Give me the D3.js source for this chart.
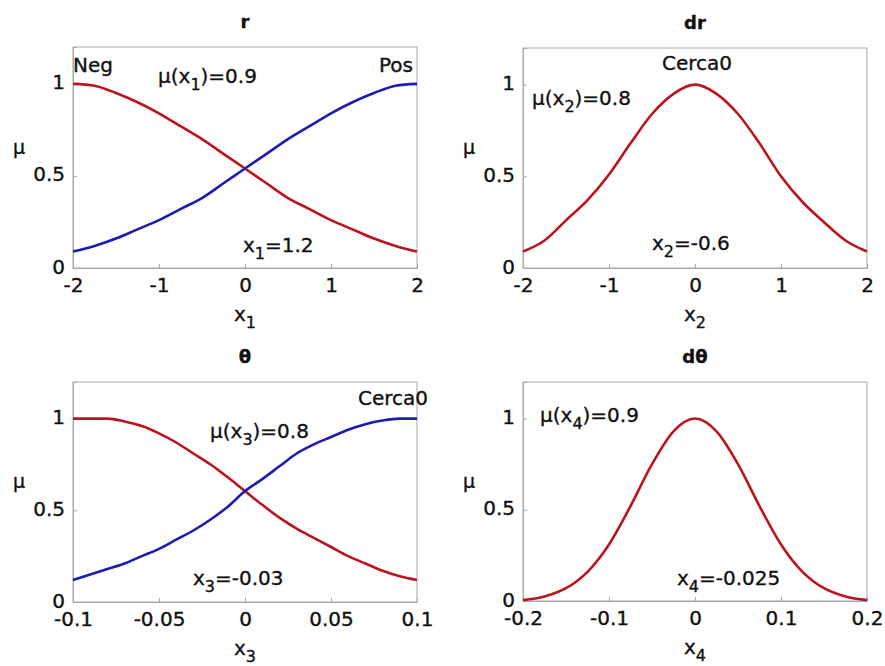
<!DOCTYPE html>
<html>
<head>
<meta charset="utf-8">
<script src="https://cdn.jsdelivr.net/npm/d3@7"></script>
<style>
  body { margin: 0; background: #fff; }
  text { font-family: "DejaVu Sans", Arial, sans-serif; fill: #111; stroke: #111; stroke-width: 0.35px; }
</style>
</head>
<body>
<div id="chart"></div>
<script>
// membership values
const x1 = [-2, -1.75, -1.5, -1.25, -1, -0.75, -0.5, -0.25, 0, 0.25, 0.5, 0.75, 1, 1.25, 1.5, 1.75, 2];
const negR = [1.0, 0.99, 0.95, 0.90, 0.84, 0.77, 0.70, 0.62, 0.54, 0.46, 0.38, 0.32, 0.26, 0.21, 0.16, 0.12, 0.09];
const posR = [0.09, 0.12, 0.16, 0.21, 0.26, 0.32, 0.38, 0.46, 0.54, 0.62, 0.70, 0.77, 0.84, 0.90, 0.95, 0.99, 1.0];

const x2 = [-2, -1.75, -1.5, -1.25, -1, -0.75, -0.5, -0.25, 0, 0.25, 0.5, 0.75, 1, 1.25, 1.5, 1.75, 2];
const cercaDr = [0.09, 0.15, 0.26, 0.37, 0.51, 0.68, 0.84, 0.95, 1.0, 0.95, 0.84, 0.68, 0.50, 0.36, 0.25, 0.15, 0.09];

const x3 = [-0.1, -0.09, -0.08, -0.07, -0.06, -0.05, -0.04, -0.03, -0.02, -0.01, 0, 0.01, 0.02, 0.03, 0.04, 0.05, 0.06, 0.07, 0.08, 0.09, 0.1];
const negTh = [1.0, 1.0, 1.0, 0.985, 0.96, 0.92, 0.87, 0.81, 0.75, 0.68, 0.605, 0.53, 0.46, 0.40, 0.35, 0.30, 0.25, 0.21, 0.17, 0.14, 0.12];
const posTh = [0.12, 0.15, 0.18, 0.21, 0.25, 0.29, 0.34, 0.39, 0.45, 0.52, 0.605, 0.67, 0.74, 0.81, 0.86, 0.90, 0.94, 0.97, 0.99, 1.0, 1.0];

const x4 = [-0.2, -0.175, -0.15, -0.125, -0.1, -0.075, -0.05, -0.025, 0, 0.025, 0.05, 0.075, 0.1, 0.125, 0.15, 0.175, 0.2];
const cercaDth = [0.005, 0.025, 0.07, 0.16, 0.31, 0.52, 0.75, 0.93, 1.0, 0.93, 0.75, 0.52, 0.31, 0.16, 0.07, 0.025, 0.005];

const yTicks = [0, 0.5, 1];
const xTicks12 = [-2, -1, 0, 1, 2];
const xTicks3 = [-0.1, -0.05, 0, 0.05, 0.1];
const xTicks4 = [-0.2, -0.1, 0, 0.1, 0.2];

const RED = "#bc141d", BLUE = "#1c1cb4";

const svg = d3.select("#chart").append("svg")
    .attr("width", 885)
    .attr("height", 666);

// text with subscripts: parts = [[text, isSub], ...]
function richText(g, x, y, parts, anchor) {
    let t = g.append("text")
        .attr("x", x).attr("y", y)
        .attr("font-size", 20)
        .attr("text-anchor", anchor || "start");
    parts.forEach((p, i) => {
        let s = t.append("tspan").text(p[0]);
        if (p[1]) s.attr("dy", 7).attr("font-size", 16);
        else if (i > 0 && parts[i-1][1]) s.attr("dy", -7);
    });
    return t;
}

function drawPanel(p) {
    let g = svg.append("g").attr("transform", `translate(${p.left},${p.top})`);
    let x = d3.scaleLinear().domain(p.xDomain).range([0, p.w]);
    let y = d3.scaleLinear().domain([0, 1.2]).range([p.h, 0]);

    // box
    g.append("rect")
        .attr("width", p.w).attr("height", p.h)
        .attr("fill", "none").attr("stroke", "#a8a8a8").attr("stroke-width", 1);

    let fmt = d => String(+d.toFixed(3));
    let xAxis = g.append("g").attr("transform", `translate(0,${p.h})`)
        .call(d3.axisBottom(x).tickValues(p.xTicks).tickSize(-4).tickPadding(10).tickFormat(fmt));
    let yAxis = g.append("g")
        .call(d3.axisLeft(y).tickValues(yTicks).tickSize(-4).tickPadding(8).tickFormat(fmt));
    [xAxis, yAxis].forEach(a => {
        a.select(".domain").attr("stroke", "#a8a8a8");
        a.selectAll(".tick line").attr("stroke", "#a8a8a8");
        a.selectAll("text").attr("font-size", 20).attr("fill", "#111")
            .attr("font-family", "DejaVu Sans, Arial, sans-serif");
    });
    yAxis.selectAll(".tick text").attr("dy", "0.25em");

    let line = d3.line().x(d => x(d[0])).y(d => y(d[1])).curve(d3.curveMonotoneX);
    p.series.forEach(s => {
        g.append("path")
            .datum(s.xs.map((v, i) => [v, s.ys[i]]))
            .attr("fill", "none").attr("stroke", s.color).attr("stroke-width", 2.6)
            .attr("d", line);
    });

    // title
    g.append("text").attr("x", p.w / 2).attr("y", -19)
        .attr("text-anchor", "middle").attr("font-size", 18).attr("font-weight", "bold")
        .text(p.title);
    // axis labels
    g.append("text").attr("x", -60).attr("y", y(0.62))
        .attr("font-size", 19).text("\u03bc");
    richText(g, p.w / 2, p.h + 53, [["x", 0], [p.sub, 1]], "middle");

    p.notes.forEach(n => richText(g, n.x, n.y, n.parts, n.anchor));
}

drawPanel({
    left: 73, top: 47, w: 344, h: 221, xDomain: [-2, 2], xTicks: xTicks12, title: "r", sub: "1",
    series: [{xs: x1, ys: negR, color: RED}, {xs: x1, ys: posR, color: BLUE}],
    notes: [
        {x: 0, y: 25, parts: [["Neg", 0]]},
        {x: 340, y: 25, parts: [["Pos", 0]], anchor: "end"},
        {x: 85, y: 36, parts: [["\u03bc(x", 0], ["1", 1], [")=0.9", 0]]},
        {x: 170, y: 205, parts: [["x", 0], ["1", 1], ["=1.2", 0]]}
    ]
});
drawPanel({
    left: 523, top: 48, w: 344, h: 220, xDomain: [-2, 2], xTicks: xTicks12, title: "dr", sub: "2",
    series: [{xs: x2, ys: cercaDr, color: RED}],
    notes: [
        {x: 174, y: 22, parts: [["Cerca0", 0]], anchor: "middle"},
        {x: 9, y: 57, parts: [["\u03bc(x", 0], ["2", 1], [")=0.8", 0]]},
        {x: 129, y: 202, parts: [["x", 0], ["2", 1], ["=-0.6", 0]]}
    ]
});
drawPanel({
    left: 73, top: 382, w: 344, h: 220, xDomain: [-0.1, 0.1], xTicks: xTicks3, title: "\u03b8", sub: "3",
    series: [{xs: x3, ys: negTh, color: RED}, {xs: x3, ys: posTh, color: BLUE}],
    notes: [
        {x: 355, y: 23, parts: [["Cerca0", 0]], anchor: "end"},
        {x: 137, y: 56, parts: [["\u03bc(x", 0], ["3", 1], [")=0.8", 0]]},
        {x: 120, y: 203, parts: [["x", 0], ["3", 1], ["=-0.03", 0]]}
    ]
});
drawPanel({
    left: 523, top: 382, w: 344, h: 219, xDomain: [-0.2, 0.2], xTicks: xTicks4, title: "d\u03b8", sub: "4",
    series: [{xs: x4, ys: cercaDth, color: RED}],
    notes: [
        {x: 17, y: 40, parts: [["\u03bc(x", 0], ["4", 1], [")=0.9", 0]]},
        {x: 154, y: 203, parts: [["x", 0], ["4", 1], ["=-0.025", 0]]}
    ]
});
</script>
</body>
</html>
